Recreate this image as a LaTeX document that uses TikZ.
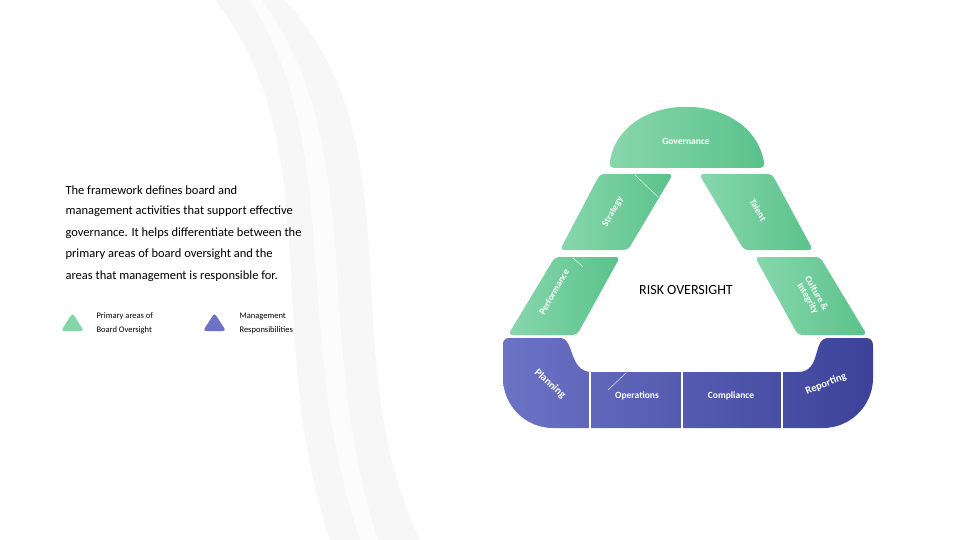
\documentclass[tikz,border=0pt]{standalone}
\usepackage{fontspec}
\setmainfont{Carlito}
\definecolor{gA}{HTML}{88D7AC}
\definecolor{gB}{HTML}{5AC28B}
\definecolor{pA}{HTML}{6C73C5}
\definecolor{pB}{HTML}{3C4298}
\begin{document}
\begin{tikzpicture}[x=1pt,y=-1pt,
 grn/.style={left color=gA,right color=gB,rounded corners=4},
 lab/.style={text=white,font=\fontsize{9.5}{9.5}\selectfont\bfseries,align=center},
 body/.style={anchor=west,font=\fontsize{12.5}{12.5}\selectfont},
 leg/.style={anchor=west,align=left,font=\fontsize{8.5}{14}\selectfont}]
\useasboundingbox (0,0) rectangle (960,540);
% background swoosh
\fill[black!3] (215,0) .. controls (330,150) and (260,330) .. (330,540) -- (420,540) .. controls (330,350) and (420,150) .. (285,0) -- cycle;
\fill[white!60!black!3] (250,0) .. controls (345,150) and (290,330) .. (360,540) -- (378,540) .. controls (310,330) and (370,150) .. (262,0) -- cycle;
% governance dome
\shade[left color=gA,right color=gB,rounded corners=5] (609,168) .. controls (620,88) and (752,88) .. (765,168) -- cycle;
\node[lab] (gov) at (686,141) {Governance};
% parallelograms
\shade[grn] (600,174) -- (673,174) -- (628,250) -- (560,250) -- cycle;
\shade[grn] (699,174) -- (772,174) -- (813,250) -- (744,250) -- cycle;
\shade[grn] (555,257) -- (620,257) -- (577,335) -- (508,335) -- cycle;
\shade[grn] (755,257) -- (820,257) -- (867,335) -- (798,335) -- cycle;
\draw[white,thin] (635,175) -- (658,197);
\draw[white,thin] (573,258) -- (583,267);
\node[lab,rotate=60] (str) at (613,212) {Strategy};
\node[lab,rotate=-60] (tal) at (758,210) {Talent};
\node[lab,rotate=60] (perf) at (554,292) {Performance};
\node[lab,rotate=-60,font=\fontsize{9.5}{10}\selectfont\bfseries] (cul) at (812,296) {Culture \&\\Integrity};
% purple base
\shade[left color=pA,right color=pB] (510,338) -- (560,338) .. controls (575,338) and (568,372) .. (592,372) -- (798,372) .. controls (822,372) and (812,338) .. (828,338) -- (866,338) .. controls (871,338) and (873,341) .. (873,346) -- (873,378) .. controls (873,405.6) and (850.6,428) .. (823,428) -- (553,428) .. controls (525.4,428) and (503,405.6) .. (503,378) -- (503,345) .. controls (503,340) and (505,338) .. (510,338) -- cycle;
\foreach \x in {590,682,782} \draw[white,line width=2.5pt] (\x,372) -- (\x,430);
\draw[white,thin] (608,390) -- (626,373);
\node[lab,rotate=-42,font=\fontsize{10.5}{10.5}\selectfont\bfseries] (plan) at (550,384) {Planning};
\node[lab,rotate=22,font=\fontsize{10.5}{10.5}\selectfont\bfseries] (rep) at (826,384) {Reporting};
\node[lab] (ops) at (637,396) {Operations};
\node[lab] (comp) at (731,396) {Compliance};
\node[font=\fontsize{14}{14}\selectfont] (risk) at (686,290) {RISK OVERSIGHT};
% text
\node[body] (t1) at (62,190) {The framework defines board and};
\node[body] (t2) at (62,211.5) {management activities that support effective};
\node[body] (t3) at (62,233) {governance. It helps differentiate between the};
\node[body] (t4) at (62,254.5) {primary areas of board oversight and the};
\node[body] (t5) at (62,276) {areas that management is responsible for.};
% legend
\fill[gA!90!gB,rounded corners=3] (61,331) -- (84,331) -- (72.5,313) -- cycle;
\fill[pA,rounded corners=3] (203,331) -- (226,331) -- (214.5,313) -- cycle;
\node[leg] (l1) at (93,323) {Primary areas of\\Board Oversight};
\node[leg] (l2) at (236,323) {Management\\Responsibilities};
\end{tikzpicture}
\end{document}
